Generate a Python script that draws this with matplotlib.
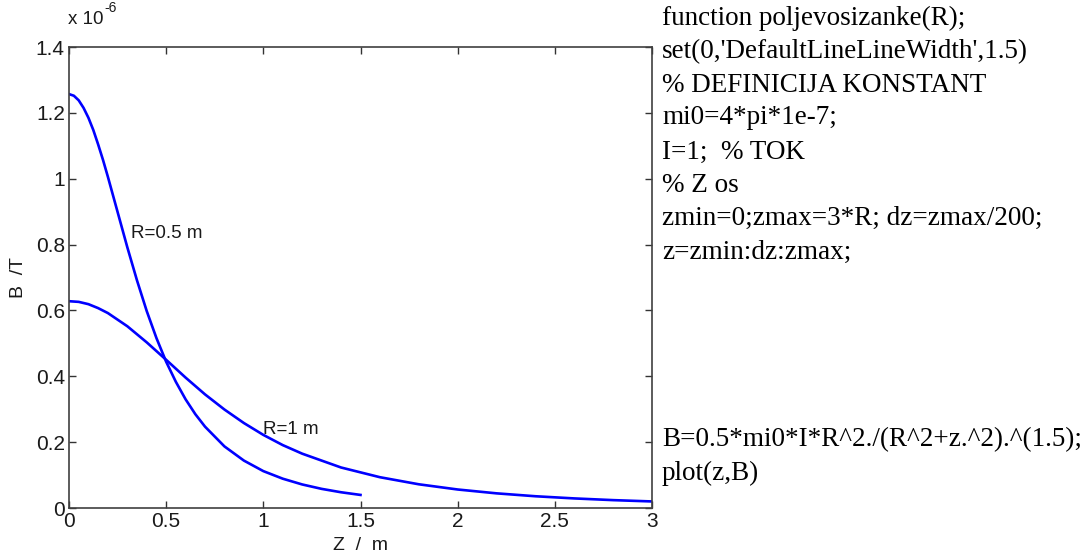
import matplotlib
matplotlib.use('Agg')
import matplotlib.pyplot as plt

# values (B in units of 1e-6 T)
z_small = [0, 0.025, 0.05, 0.075, 0.1, 0.125, 0.15, 0.175, 0.2, 0.25, 0.3, 0.35, 0.4,
           0.45, 0.5, 0.55, 0.6, 0.65, 0.7, 0.8, 0.9, 1.0, 1.1, 1.2, 1.3, 1.4, 1.5]
b_small = [1.257, 1.252, 1.238, 1.215, 1.185, 1.148, 1.104, 1.057, 1.006, 0.899, 0.792,
           0.691, 0.598, 0.516, 0.444, 0.383, 0.330, 0.285, 0.247, 0.187, 0.144, 0.112,
           0.089, 0.0715, 0.0581, 0.0478, 0.0397]

z_big = [0, 0.05, 0.1, 0.15, 0.2, 0.3, 0.4, 0.5, 0.6, 0.7, 0.8, 0.9, 1.0,
         1.1, 1.2, 1.4, 1.6, 1.8, 2.0, 2.2, 2.4, 2.6, 2.8, 3.0]
b_big = [0.628, 0.626, 0.619, 0.607, 0.592, 0.552, 0.503, 0.450, 0.396, 0.345, 0.299,
         0.258, 0.222, 0.191, 0.165, 0.123, 0.0935, 0.072, 0.0562, 0.0445, 0.0357,
         0.0291, 0.0239, 0.0199]

xticks = [0, 0.5, 1, 1.5, 2, 2.5, 3]
yticks = [0, 0.2, 0.4, 0.6, 0.8, 1.0, 1.2, 1.4]
ytick_labels = ['0', '0.2', '0.4', '0.6', '0.8', '1', '1.2', '1.4']

code_lines = [
    "function poljevosizanke(R);",
    "set(0,'DefaultLineLineWidth',1.5)",
    "% DEFINICIJA KONSTANT",
    "mi0=4*pi*1e-7;",
    "I=1;  % TOK",
    "% Z os",
    "zmin=0;zmax=3*R; dz=zmax/200;",
    "z=zmin:dz:zmax;",
    "B=0.5*mi0*I*R^2./(R^2+z.^2).^(1.5);",
    "plot(z,B)",
]
# vertical pixel position of each code line (from the top)
code_y = [18, 52, 85, 118, 152, 185, 218, 252, 440, 473]

W, H = 1085, 553
fig = plt.figure(figsize=(W / 100, H / 100), dpi=100)
ax = fig.add_axes([69 / W, 1 - 508 / H, (652 - 69) / W, (508 - 47) / H])

sans = 'Liberation Sans'
ink = '#1a1a1a'
ax.plot(z_small, b_small, color='#0000ff', linewidth=1.9)
ax.plot(z_big, b_big, color='#0000ff', linewidth=1.9)

ax.set_xlim(0, 3)
ax.set_ylim(0, 1.4)
ax.set_xticks(xticks)
ax.set_xticklabels([f'{t:g}' for t in xticks], fontfamily=sans, fontsize=15)
ax.set_yticks(yticks)
ax.set_yticklabels(ytick_labels, fontfamily=sans, fontsize=15)
ax.tick_params(direction='in', length=5, width=1, color='#333333',
               top=True, right=True, labelcolor=ink, pad=3)
for s in ax.spines.values():
    s.set_color('#404040')
    s.set_linewidth(1.2)

ax.text(0.32, 0.835, 'R=0.5 m', fontfamily=sans, fontsize=13.5, color=ink,
        va='center', ha='left')
ax.text(1.0, 0.237, 'R=1 m', fontfamily=sans, fontsize=13.5, color=ink,
        va='center', ha='left')

ax.set_xlabel('Z  /  m', fontfamily=sans, fontsize=14, color=ink)
ax.set_ylabel('B  /T', fontfamily=sans, fontsize=14, color=ink)
ax.xaxis.set_label_coords(0.5, -0.062)
ax.yaxis.set_label_coords(-0.072, 0.5)

# exponent label above the y axis
fig.text(68 / W, 1 - 20 / H, 'x 10', fontfamily=sans, fontsize=13.5, color=ink,
         va='center', ha='left')
fig.text(104 / W, 1 - 8 / H, '-6', fontfamily=sans, fontsize=10, color=ink,
         va='center', ha='left')

# MATLAB source shown beside the plot
for line, y in zip(code_lines, code_y):
    fig.text(662 / W, 1 - y / H, line, fontfamily='Liberation Serif',
             fontsize=19.5, color='black', va='center', ha='left')

fig.savefig('out.png', dpi=100)
